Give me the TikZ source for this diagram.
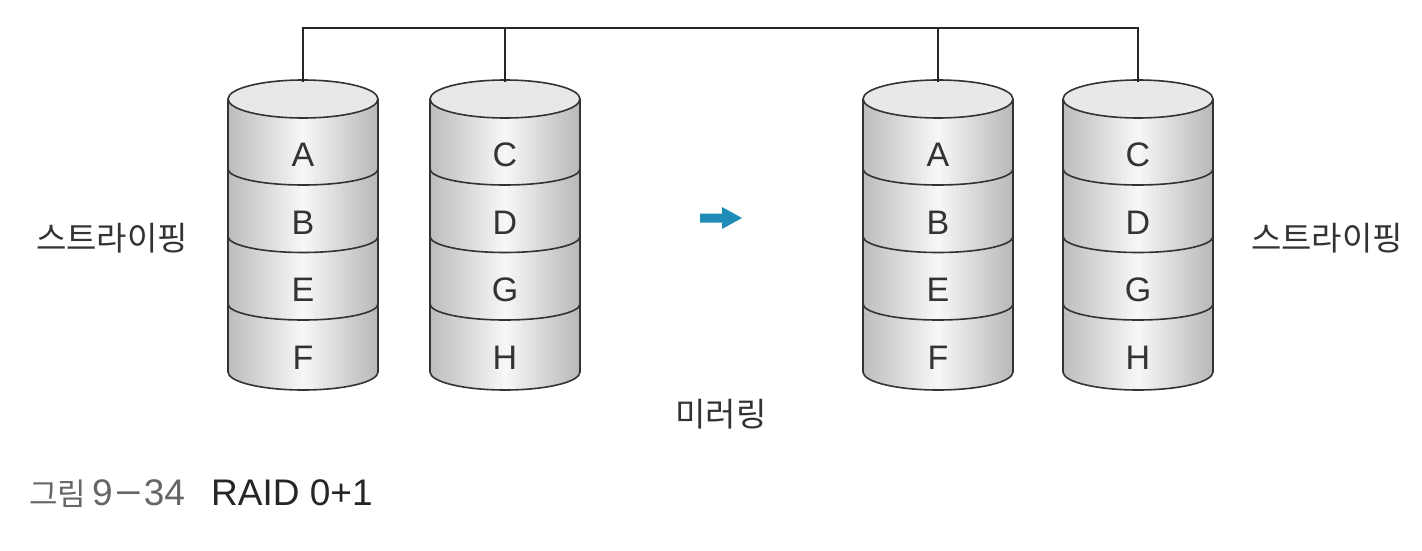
\documentclass[tikz,border=0pt]{standalone}
\usepackage{fontspec}
\setmainfont{Liberation Sans}
\newfontfamily\kr{Noto Sans CJK KR}
\definecolor{ink}{HTML}{333333}
\definecolor{arrowblue}{HTML}{1F8DB8}
\definecolor{capgray}{HTML}{666666}
\begin{document}
\begin{tikzpicture}[x=1pt,y=-1pt,
  outline/.style={draw=ink, line width=1.6pt},
  letter/.style={text=ink, font=\fontsize{34}{40}\selectfont, inner sep=0pt},
  krlabel/.style={text=ink, font=\kr\fontsize{33}{38}\selectfont, inner sep=0pt},
  captext/.style={anchor=base west, inner sep=0pt},
  bus/.style={draw=black!85, line width=2pt}]
\useasboundingbox (0,0) rectangle (1422,551);
\fill[white] (0,0) rectangle (1422,551);
% cylinders
\foreach \cx/\nm/\la/\lb/\lc/\ld in {303/c1/A/B/E/F, 505/c2/C/D/G/H, 938/c3/A/B/E/F, 1138/c4/C/D/G/H}{
  \shade[left color=black!26, right color=black!28, middle color=white!97!black]
    (\cx-75,99) -- (\cx-75,372) arc[start angle=180, end angle=0, x radius=75, y radius=18] -- (\cx+75,99) -- cycle;
  \draw[outline] (\cx-75,99) -- (\cx-75,372) arc[start angle=180, end angle=0, x radius=75, y radius=18] -- (\cx+75,99);
  \foreach \yy in {169,236.5,304}{
    \draw[outline] (\cx-75,\yy) arc[start angle=180, end angle=0, x radius=75, y radius=16];
  }
  \draw[outline, fill=black!9] (\cx,99) ellipse[x radius=75, y radius=19];
  \coordinate (\nm top) at (\cx,82);
  \node[letter] (\nm1) at (\cx,155) {\la};
  \node[letter] (\nm2) at (\cx,222.5) {\lb};
  \node[letter] (\nm3) at (\cx,290) {\lc};
  \node[letter] (\nm4) at (\cx,357.5) {\ld};
}
% bus
\coordinate (busline) at (0,28);
\draw[bus] (c1top) -- (c1top |- busline) -- (c4top |- busline) -- (c4top);
\draw[bus] (c2top) -- (c2top |- busline);
\draw[bus] (c3top) -- (c3top |- busline);
% arrow
\fill[arrowblue] (700,213.5) -- (722,213.5) -- (722,207) -- (742,218) -- (722,229) -- (722,222.5) -- (700,222.5) -- cycle;
% labels
\node[krlabel] (lstripe) at (112,238) {스트라이핑};
\node[krlabel] (rstripe) at (1327,238) {스트라이핑};
\node[krlabel] (mirror) at (721,414) {미러링};
\node[captext, text=capgray, font=\kr\fontsize{31}{36}\selectfont] (capkr) at (29,505) {그림};
\node[captext, text=capgray, font=\fontsize{37}{42}\selectfont] (capnum) at (92,505) {9\kern2pt\scalebox{1.25}[1]{−}\kern2pt34};
\node[captext, text=black!85, font=\fontsize{37}{42}\selectfont] (captitle) at (211,505) {RAID 0+1};
\end{tikzpicture}
\end{document}
